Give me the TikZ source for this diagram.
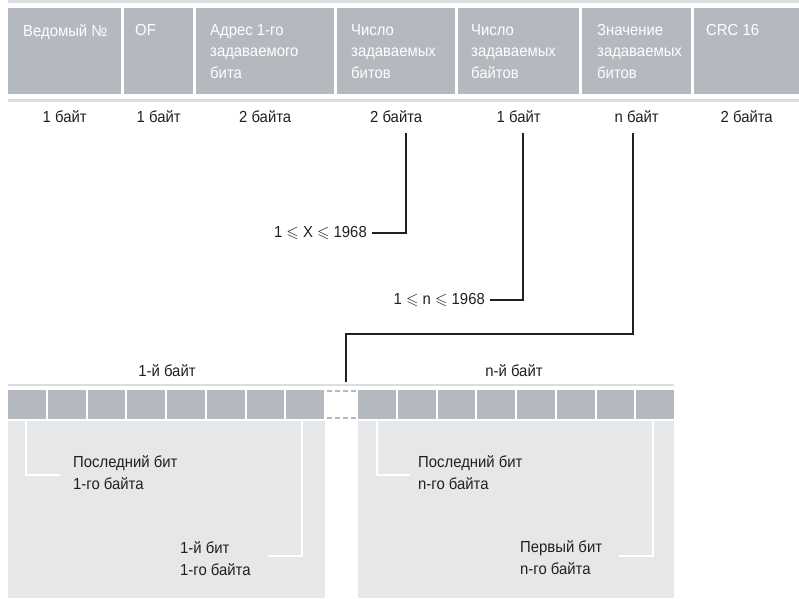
\documentclass[tikz,border=0pt]{standalone}
\usepackage{amssymb}
\usepackage{fontspec}
\setmainfont{Liberation Sans}[FakeStretch=0.93]
\newcommand\lblfont{\fontsize{16}{21.5}\selectfont}
\definecolor{ink}{HTML}{231F20}
\definecolor{hgray}{HTML}{B4B8BF}
\definecolor{panelgray}{HTML}{E6E7E9}
\definecolor{rulegray}{HTML}{DCDDE1}
\begin{document}
\begin{tikzpicture}[x=1pt,y=-1pt,
  hcell/.style={fill=hgray,draw=none,anchor=north west,inner sep=0pt,minimum height=86pt},
  htext/.style={anchor=north west,inner sep=0pt,text=white,align=left,font=\lblfont},
  sz/.style={anchor=base,inner sep=0pt,text=ink,font=\lblfont},
  note/.style={anchor=north west,inner sep=0pt,text=ink,align=left,font=\lblfont},
  rng/.style={anchor=east,inner xsep=5pt,inner ysep=0pt,text=ink,font=\lblfont},
  conn/.style={draw=ink,line width=2pt,line join=miter},
  rulel/.style={draw=rulegray,line width=2.5pt},
  bitcell/.style={fill=hgray,draw=none,inner sep=0pt,minimum width=37.75pt,minimum height=29pt,anchor=north west},
  panel/.style={fill=panelgray,draw=none,inner sep=0pt,anchor=north west,minimum height=177pt},
  wline/.style={draw=white,line width=2pt},
  gapdash/.style={draw=hgray,line width=2pt,dash pattern=on 4.5pt off 3.5pt},
]
\fill[white] (0,0) rectangle (799,598);
\useasboundingbox (0,0) rectangle (799,598);

% top rules
\draw[rulel] (8,1.5) -- (799,1.5);
\draw[rulel] (8,100.5) -- (799,100.5);

% header cells
\node[hcell,minimum width=113pt] (c1) at (8,8) {};
\node[hcell,minimum width=69pt]  (c2) at (124,8) {};
\node[hcell,minimum width=138pt] (c3) at (196,8) {};
\node[hcell,minimum width=118pt] (c4) at (337,8) {};
\node[hcell,minimum width=121pt] (c5) at (458,8) {};
\node[hcell,minimum width=109pt] (c6) at (582,8) {};
\node[hcell,minimum width=105pt] (c7) at (694,8) {};

\node[htext] (t1) at ([shift={(15,16)}]c1.north west) {Ведомый №};
\node[htext] (t2) at ([shift={(11,16)}]c2.north west) {OF};
\node[htext] (t3) at ([shift={(14,16)}]c3.north west) {Адрес 1-го\\задаваемого\\бита};
\node[htext] (t4) at ([shift={(14,16)}]c4.north west) {Число\\задаваемых\\битов};
\node[htext] (t5) at ([shift={(13,16)}]c5.north west) {Число\\задаваемых\\байтов};
\node[htext] (t6) at ([shift={(15,16)}]c6.north west) {Значение\\задаваемых\\битов};
\node[htext] (t7) at ([shift={(12,16)}]c7.north west) {CRC 16};

% size labels
\node[sz] (s1) at (c1.south |- 0,122) {1 байт};
\node[sz] (s2) at (c2.south |- 0,122) {1 байт};
\node[sz] (s3) at (c3.south |- 0,122) {2 байта};
\node[sz] (s4) at (c4.south |- 0,122) {2 байта};
\node[sz] (s5) at (c5.south |- 0,122) {1 байт};
\node[sz] (s6) at (c6.south |- 0,122) {n байт};
\node[sz] (s7) at (c7.south |- 0,122) {2 байта};

% range labels and connectors
\coordinate (v4) at (406,133);
\coordinate (v5) at (523,133);
\coordinate (v6) at (633,133);
\node[rng] (r1) at (372,233) {1 $\leqslant$ X $\leqslant$ 1968};
\node[rng] (r2) at (490,300) {1 $\leqslant$ n $\leqslant$ 1968};
\draw[conn] (v4) |- (r1.east);
\draw[conn] (v5) |- (r2.east);
\coordinate (k1) at (346,334);
\coordinate (k2) at (346,382);
\draw[conn] (v6) |- (k1) -- (k2);

% byte labels
\node[sz,anchor=center] (b1) at (167,371) {1-й байт};
\node[sz,anchor=center] (bn) at (514,371) {n-й байт};
\draw[rulel,line width=2.5pt] (8,385) -- (674,385);

% bit cells
\foreach \i in {0,...,7} {
  \node[bitcell] (a\i) at ({8+\i*39.75},390) {};
  \node[bitcell] (q\i) at ({358+\i*39.75},390) {};
}
\draw[gapdash] (319,391) -- (359,391);
\draw[gapdash] (319,417.5) -- (359,417.5);

% panels
\node[panel,minimum width=317pt] (pl) at (8,421) {};
\node[panel,minimum width=316pt] (pr) at (358,421) {};

% notes
\node[note] (n1) at (73,455.5) {Последний бит\\1-го байта};
\node[note] (n2) at (180,541.5) {1-й бит\\1-го байта};
\node[note] (n3) at (418,455.5) {Последний бит\\n-го байта};
\node[note] (n4) at (520,540.5) {Первый бит\\n-го байта};

\coordinate (e1) at (60,475);
\coordinate (e2) at (268,556);
\coordinate (e3) at (410,475);
\coordinate (e4) at (619,556);
\draw[wline] (26,421) |- (e1);
\draw[wline] (302,421) |- (e2);
\draw[wline] (377,421) |- (e3);
\draw[wline] (653,421) |- (e4);
\end{tikzpicture}
\end{document}
